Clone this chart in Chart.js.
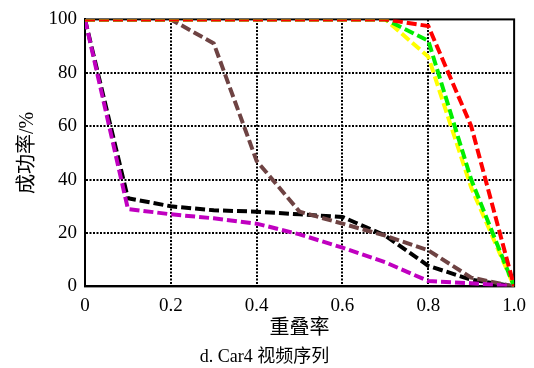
<!DOCTYPE html>
<html>
<head>
<meta charset="utf-8">
<script src="https://cdn.jsdelivr.net/npm/chart.js@4"></script>
<style>
  html, body { margin: 0; padding: 0; background: #fff; }
  #wrap { width: 534px; height: 368px; }
</style>
</head>
<body>
<div id="wrap"><canvas id="lineChart"></canvas></div>
<script>
// overlap threshold (x) and success rate in % for each tracker
const overlap = [0, 0.1, 0.2, 0.3, 0.4, 0.5, 0.6, 0.7, 0.8, 0.9, 1.0];
const redSeries     = [100, 100, 100, 100, 100, 100, 100, 100, 97.5, 60, 0];
const greenSeries   = [100, 100, 100, 100, 100, 100, 100, 100, 92, 40, 0];
const yellowSeries  = [100, 100, 100, 100, 100, 100, 100, 100, 86, 37, 0];
const magentaSeries = [100, 29, 27, 25.5, 23.5, 19.5, 14.5, 9, 2, 1.2, 0];
const brownSeries   = [100, 100, 100, 91, 47, 28, 23.5, 19, 13.5, 3.3, 0];
const blackSeries   = [100, 33, 30, 28.5, 28, 27, 26, 19, 7.7, 2.5, 0];
const yTicks = [0, 20, 40, 60, 80, 100];

const serif = '"Liberation Serif", "Noto Sans CJK SC", serif';

function pts(arr) {
  return arr.map((v, i) => ({ x: overlap[i], y: v }));
}
function line(color, arr) {
  return {
    data: pts(arr),
    borderColor: color,
    borderWidth: 4,
    borderDash: [10, 4],
    pointRadius: 0,
    tension: 0,
    fill: false
  };
}

// solid box around the plotting area
const frame = {
  id: 'frame',
  beforeDatasetsDraw(chart) {
    const { ctx, chartArea: a } = chart;
    ctx.save();
    ctx.strokeStyle = '#000';
    ctx.lineWidth = 2;
    ctx.strokeRect(a.left, a.top, a.right - a.left, a.bottom - a.top);
    ctx.restore();
  }
};

new Chart(document.getElementById('lineChart'), {
  type: 'line',
  data: {
    datasets: [
      line('#ff0000', redSeries),
      line('#00ee00', greenSeries),
      line('#ffff00', yellowSeries),
      line('#c000c0', magentaSeries),
      line('#6e4343', brownSeries),
      line('#000000', blackSeries)
    ]
  },
  options: {
    responsive: true,
    maintainAspectRatio: false,
    animation: false,
    layout: { padding: { left: 14, right: 19, top: 16, bottom: 0 } },
    plugins: {
      legend: { display: false },
      tooltip: { enabled: false },
      title: {
        display: true,
        position: 'bottom',
        text: 'd. Car4 视频序列',
        color: '#000',
        font: { family: serif, size: 18, weight: 'normal' },
        padding: { top: 6, bottom: 0 }
      }
    },
    scales: {
      x: {
        type: 'linear',
        min: 0,
        max: 1,
        afterFit(s) { s.height = 54; },
        ticks: {
          stepSize: 0.2,
          padding: 8,
          color: '#000',
          font: { family: serif, size: 19 },
          callback: v => (v === 0 ? '0' : v.toFixed(1))
        },
        grid: {
          color: ctx => (ctx.tick && (ctx.tick.value === 0 || ctx.tick.value === 1) ? 'rgba(0,0,0,0)' : '#000'),
          lineWidth: 2,
          drawTicks: false
        },
        border: { display: true, color: '#000', width: 2, dash: [2, 1.5] },
        title: {
          display: true,
          text: '重叠率',
          color: '#000',
          font: { family: serif, size: 20 },
          padding: { top: 0, bottom: 0 }
        }
      },
      y: {
        min: 0,
        max: 100,
        afterFit(s) { s.width = 71; },
        afterBuildTicks(s) { s.ticks = yTicks.map(v => ({ value: v })); },
        ticks: {
          padding: 8,
          color: '#000',
          font: { family: serif, size: 19 }
        },
        grid: {
          color: ctx => (ctx.tick && (ctx.tick.value === 0 || ctx.tick.value === 100) ? 'rgba(0,0,0,0)' : '#000'),
          lineWidth: 2,
          drawTicks: false
        },
        border: { display: true, color: '#000', width: 2, dash: [2, 1.5] },
        title: {
          display: true,
          text: '成功率/%',
          color: '#000',
          font: { family: serif, size: 20 },
          padding: { top: 2, bottom: 0 }
        }
      }
    }
  },
  plugins: [frame]
});
</script>
</body>
</html>
